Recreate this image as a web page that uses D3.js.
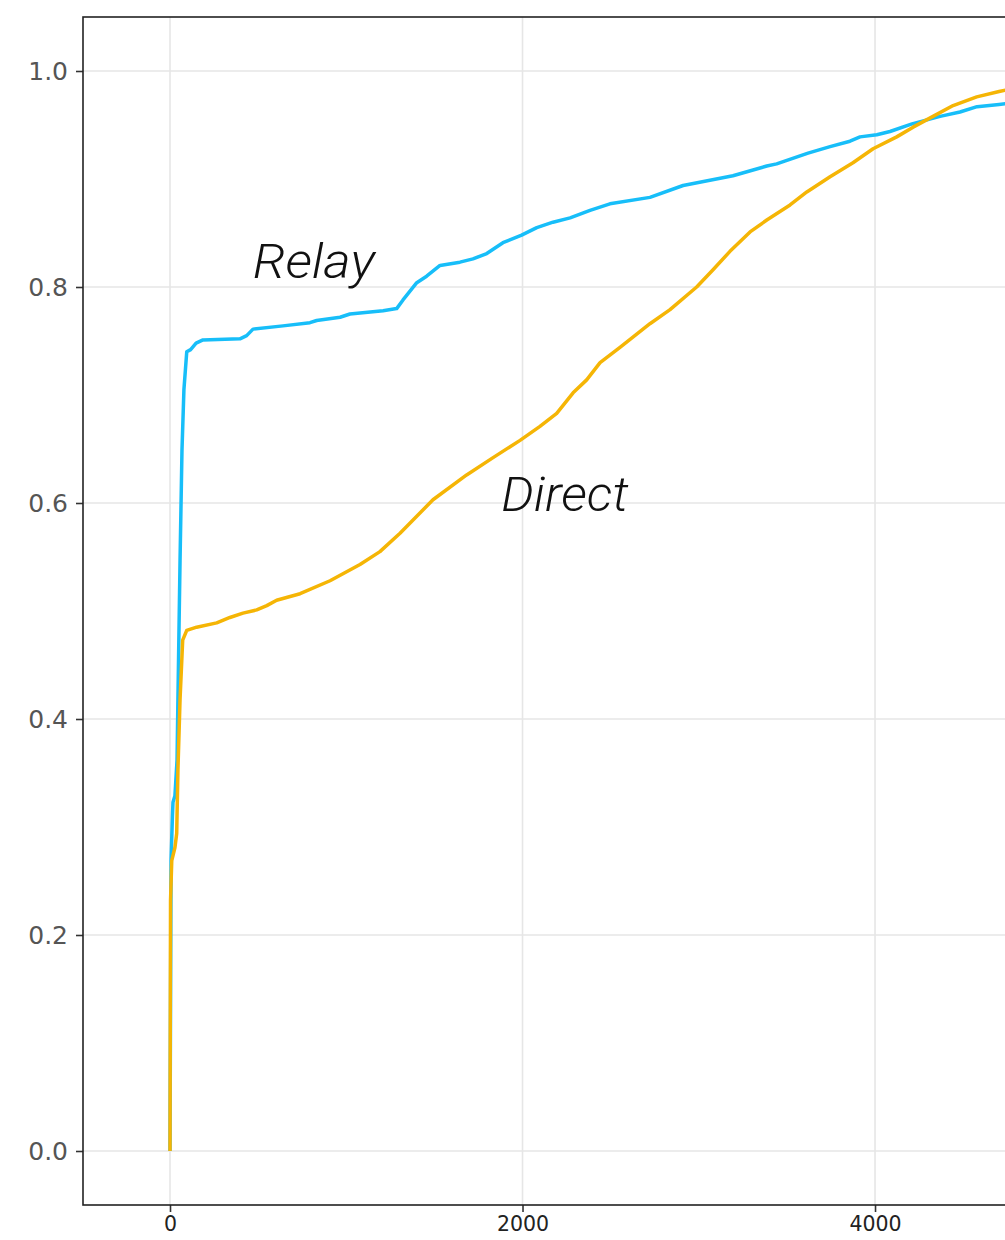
<!DOCTYPE html>
<html>
<head>
<meta charset="utf-8">
<script src="https://cdn.jsdelivr.net/npm/d3@7"></script>
<style>
  html, body { margin: 0; padding: 0; background: #fff; }
  svg { display: block; }
</style>
</head>
<body>
<svg id="chart" width="1005" height="1240"></svg>
<script>
// Cumulative distribution of latency for relayed vs. direct connections
const relayX = [0, 6, 14, 17, 28, 40, 45, 57, 68, 79, 95, 117, 148, 187, 397, 435, 471, 641, 794, 832, 965, 1021, 1209, 1286, 1322, 1400, 1456, 1532, 1645, 1719, 1797, 1889, 1995, 2081, 2173, 2270, 2383, 2496, 2723, 2911, 3194, 3386, 3442, 3620, 3745, 3858, 3915, 4010, 4085, 4210, 4369, 4482, 4579, 4704, 4760];
const relayY = [0, 0.269, 0.311, 0.323, 0.329, 0.362, 0.418, 0.547, 0.649, 0.705, 0.740, 0.742, 0.748, 0.751, 0.752, 0.755, 0.761, 0.764, 0.767, 0.769, 0.772, 0.775, 0.778, 0.780, 0.788, 0.804, 0.810, 0.820, 0.823, 0.826, 0.831, 0.841, 0.848, 0.855, 0.860, 0.864, 0.871, 0.877, 0.883, 0.894, 0.903, 0.912, 0.914, 0.924, 0.930, 0.935, 0.939, 0.941, 0.944, 0.951, 0.958, 0.962, 0.967, 0.969, 0.970];

const directX = [0, 3, 10, 28, 38, 45, 57, 72, 95, 151, 265, 340, 414, 492, 549, 605, 738, 908, 1078, 1191, 1305, 1492, 1683, 1833, 1986, 2099, 2194, 2287, 2364, 2440, 2553, 2723, 2837, 2988, 3081, 3177, 3291, 3386, 3518, 3613, 3745, 3875, 3989, 4123, 4216, 4329, 4443, 4577, 4704, 4760];
const directY = [0, 0.232, 0.269, 0.281, 0.294, 0.353, 0.418, 0.473, 0.482, 0.485, 0.489, 0.494, 0.498, 0.501, 0.505, 0.510, 0.516, 0.528, 0.543, 0.555, 0.572, 0.603, 0.626, 0.642, 0.658, 0.671, 0.683, 0.702, 0.714, 0.730, 0.744, 0.766, 0.779, 0.800, 0.816, 0.833, 0.851, 0.862, 0.876, 0.888, 0.902, 0.915, 0.928, 0.939, 0.948, 0.958, 0.968, 0.976, 0.981, 0.983];

const xTicks = [0, 2000, 4000];
const xGrid = [0, 2000, 4000, 6000, 8000, 10000];
const yTicks = [0.0, 0.2, 0.4, 0.6, 0.8, 1.0];

const labels = [
  { text: "Relay", x: 470, y: 0.808, width: 122 },
  { text: "Direct", x: 1880, y: 0.593, width: 127 }
];

const colors = { relay: "#17bef9", direct: "#f5b505" };

const svg = d3.select("#chart");
const plot = { left: 83, top: 17, bottom: 1205, right: 1997 };

const x = d3.scaleLinear().domain([-493.6, 10365.6]).range([plot.left, plot.right]);
const y = d3.scaleLinear().domain([-0.05, 1.05]).range([plot.bottom, plot.top]);

svg.append("defs").append("clipPath").attr("id", "plotClip")
  .append("rect")
  .attr("x", plot.left).attr("y", plot.top)
  .attr("width", plot.right - plot.left).attr("height", plot.bottom - plot.top);

// grid
const grid = svg.append("g");
grid.selectAll("line.gy").data(yTicks).join("line")
  .attr("x1", plot.left).attr("x2", plot.right)
  .attr("y1", d => y(d)).attr("y2", d => y(d))
  .attr("stroke", "#e6e6e6").attr("stroke-width", 1.6);
grid.selectAll("line.gx").data(xGrid).join("line")
  .attr("y1", plot.top).attr("y2", plot.bottom)
  .attr("x1", d => x(d)).attr("x2", d => x(d))
  .attr("stroke", "#e6e6e6").attr("stroke-width", 1.6);

// curves
const line = d3.line().x(d => x(d[0])).y(d => y(d[1]));
const g = svg.append("g").attr("clip-path", "url(#plotClip)");
g.append("path").datum(d3.zip(relayX, relayY))
  .attr("d", line).attr("fill", "none")
  .attr("stroke", colors.relay).attr("stroke-width", 3.5)
  .attr("stroke-linejoin", "round");
g.append("path").datum(d3.zip(directX, directY))
  .attr("d", line).attr("fill", "none")
  .attr("stroke", colors.direct).attr("stroke-width", 3.5)
  .attr("stroke-linejoin", "round");

// axes
const yAxis = svg.append("g").attr("transform", `translate(${plot.left},0)`)
  .call(d3.axisLeft(y).tickValues(yTicks).tickFormat(d3.format(".1f")).tickSize(7).tickPadding(8));
yAxis.select(".domain").remove();
yAxis.selectAll(".tick line").attr("stroke", "#333").attr("stroke-width", 1.6);
yAxis.selectAll(".tick text")
  .attr("fill", "#555").style("font-family", "DejaVu Sans").style("font-size", "25px");

const xAxis = svg.append("g").attr("transform", `translate(0,${plot.bottom})`)
  .call(d3.axisBottom(x).tickValues(xTicks).tickFormat(d3.format("d")).tickSize(7).tickPadding(4));
xAxis.select(".domain").remove();
xAxis.selectAll(".tick line").attr("stroke", "#333").attr("stroke-width", 1.6);
xAxis.selectAll(".tick text")
  .attr("fill", "#222").style("font-family", "DejaVu Sans").style("font-size", "20.5px");

// frame
svg.append("rect")
  .attr("x", plot.left).attr("y", plot.top)
  .attr("width", plot.right - plot.left).attr("height", plot.bottom - plot.top)
  .attr("fill", "none").attr("stroke", "#222").attr("stroke-width", 1.6);

// curve annotations
svg.selectAll("text.note").data(labels).join("text")
  .attr("class", "note")
  .attr("x", d => x(d.x)).attr("y", d => y(d.y))
  .attr("textLength", d => d.width).attr("lengthAdjust", "spacingAndGlyphs")
  .text(d => d.text)
  .style("font-family", "Roboto, 'Liberation Sans', sans-serif")
  .style("font-weight", 300).style("font-style", "italic")
  .style("font-size", "48px").attr("fill", "#111");
</script>
</body>
</html>
